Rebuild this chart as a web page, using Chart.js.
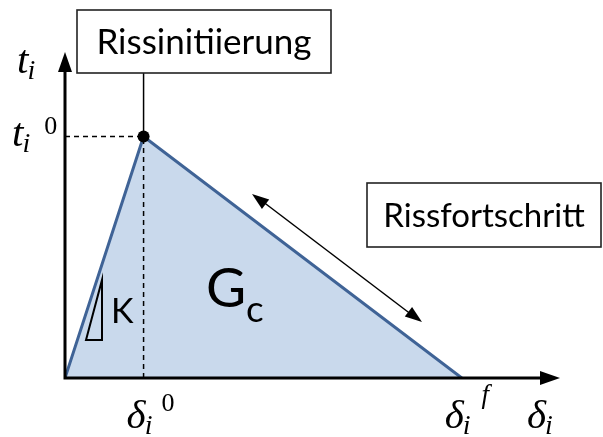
<!DOCTYPE html>
<html>
<head>
<meta charset="utf-8">
<script src="https://cdn.jsdelivr.net/npm/chart.js@4/dist/chart.umd.min.js"></script>
<style>
    html, body { margin: 0 ; padding: 0 ; background: #ffffff ; }
    #wrap { width: 603px ; height: 437px ; }
</style>
</head>
<body>
<div id="wrap"><canvas id="tslChartCanvas" width="603" height="437"></canvas></div>
<script>
    // ---------------- Data -----------------------------------------------------
    // bilinear traction-separation law (normalised: delta_i^0 = 1, t_i^0 = 1)
    const separation = [ 0, 1, 5.05 ] ;
    const traction   = [ 0, 1, 0 ] ;

    const DELTA_0  = 1 ;
    const DELTA_F  = 5.05 ;
    const T_0      = 1 ;
    const X_MAX    = 6.3 ;
    const Y_MAX    = 1.35 ;

    const initLabel     = "Rissinitiierung" ;
    const progressLabel = "Rissfortschritt" ;
    const energyLabel   = [ "G", "c" ] ;
    const stiffLabel    = "K" ;

    // ---------------- Constants ------------------------------------------------
    const SANS = "Lato, 'Open Sans', sans-serif" ;
    const SERIF = "'Liberation Serif', serif" ;
    const FILL_COLOR = '#c9d9ec' ;
    const LINE_COLOR = '#3f6396' ;

    function toPoints( xs, ys ) {
        var pts = [] ;
        for( var i=0; i<xs.length; i++ ) {
            pts.push( { x: xs[i], y: ys[i] } ) ;
        }
        return pts ;
    }

    // ---------------- Drawing helpers ------------------------------------------
    function arrowHead( ctx, x1, y1, x2, y2, len, half ) {
        var a = Math.atan2( y2 - y1, x2 - x1 ) ;
        ctx.beginPath() ;
        ctx.moveTo( x2, y2 ) ;
        ctx.lineTo( x2 - len*Math.cos(a) + half*Math.sin(a), y2 - len*Math.sin(a) - half*Math.cos(a) ) ;
        ctx.lineTo( x2 - len*Math.cos(a) - half*Math.sin(a), y2 - len*Math.sin(a) + half*Math.cos(a) ) ;
        ctx.closePath() ;
        ctx.fill() ;
    }

    // base + italic subscript + optional superscript (offsets relative to subscript end)
    function mathLabel( ctx, base, sub, sup, x, y, supDx, supDy ) {
        ctx.textBaseline = 'alphabetic' ;
        ctx.textAlign = 'left' ;
        ctx.font = "italic 41px " + SERIF ;
        ctx.fillText( base, x, y ) ;
        var w = ctx.measureText( base ).width ;
        ctx.font = "italic 28px " + SERIF ;
        ctx.fillText( sub, x + w - 1, y + 6 ) ;
        if( sup ) {
            var w2 = ctx.measureText( sub ).width ;
            if( sup == 'f' ) {
                ctx.font = "italic 27px " + SERIF ;
            } else {
                ctx.font = "26px " + SERIF ;
            }
            ctx.fillText( sup, x + w + w2 + supDx, y + supDy ) ;
        }
    }

    function textBox( ctx, text, x1, y1, x2, y2, size ) {
        ctx.lineWidth = 1.6 ;
        ctx.strokeStyle = '#222222' ;
        ctx.strokeRect( x1, y1, x2 - x1, y2 - y1 ) ;
        ctx.font = size + "px " + SANS ;
        ctx.textAlign = 'center' ;
        ctx.textBaseline = 'middle' ;
        ctx.fillText( text, (x1 + x2)/2, (y1 + y2)/2 + 1 ) ;
    }

    // ---------------- Annotation plugin ----------------------------------------
    const diagramPlugin = {
        id: 'diagram',
        afterDatasetsDraw: function( chart ) {
            var ctx = chart.ctx ;
            var xs = chart.scales.x ;
            var ys = chart.scales.y ;
            var x0 = xs.getPixelForValue( 0 ) ;
            var y0 = ys.getPixelForValue( 0 ) ;
            var xTip = xs.getPixelForValue( X_MAX ) ;
            var yTip = ys.getPixelForValue( Y_MAX ) ;
            var xD0 = xs.getPixelForValue( DELTA_0 ) ;
            var xDF = xs.getPixelForValue( DELTA_F ) ;
            var yT0 = ys.getPixelForValue( T_0 ) ;

            ctx.save() ;
            ctx.fillStyle = '#000000' ;
            ctx.strokeStyle = '#000000' ;

            // axes with arrows
            ctx.lineWidth = 3 ;
            ctx.beginPath() ;
            ctx.moveTo( x0, y0 + 1.5 ) ;
            ctx.lineTo( x0, yTip + 12 ) ;
            ctx.moveTo( x0 - 1.5, y0 ) ;
            ctx.lineTo( xTip - 12, y0 ) ;
            ctx.stroke() ;
            arrowHead( ctx, x0, y0, x0, yTip, 20, 7 ) ;
            arrowHead( ctx, x0, y0, xTip, y0, 20, 7 ) ;

            // connector from the initiation box to the peak
            ctx.lineWidth = 1.5 ;
            ctx.beginPath() ;
            ctx.moveTo( xD0, 73 ) ;
            ctx.lineTo( xD0, yT0 ) ;
            ctx.stroke() ;

            // double arrow along the softening branch
            ctx.beginPath() ;
            ctx.moveTo( 262, 201 ) ;
            ctx.lineTo( 412, 315 ) ;
            ctx.stroke() ;
            arrowHead( ctx, 412, 315, 252, 194, 17, 6 ) ;
            arrowHead( ctx, 262, 201, 422, 322, 17, 6 ) ;

            // stiffness triangle
            ctx.lineWidth = 2 ;
            ctx.beginPath() ;
            ctx.moveTo( 86, 340 ) ;
            ctx.lineTo( 102, 280 ) ;
            ctx.lineTo( 102, 340 ) ;
            ctx.closePath() ;
            ctx.stroke() ;

            // boxes
            ctx.fillStyle = '#000000' ;
            textBox( ctx, initLabel, 77, 10, 331, 73, 35 ) ;
            ctx.fillStyle = '#ffffff' ;
            ctx.fillRect( 367, 183, 234, 64 ) ;
            ctx.fillStyle = '#000000' ;
            textBox( ctx, progressLabel, 367, 183, 601, 247, 33 ) ;

            // texts inside the area
            ctx.textAlign = 'left' ;
            ctx.textBaseline = 'alphabetic' ;
            ctx.font = "55px " + SANS ;
            ctx.fillText( energyLabel[0], 206, 307 ) ;
            ctx.font = "37px " + SANS ;
            ctx.fillText( energyLabel[1], 246, 322 ) ;
            ctx.font = "34px " + SANS ;
            ctx.fillText( stiffLabel, 111, 323 ) ;

            // axis labels
            mathLabel( ctx, "t", "i", null, x0 - 48, 73, 0, 0 ) ;
            mathLabel( ctx, "t", "i", "0", x0 - 53, yT0 + 9, 13, -12 ) ;
            mathLabel( ctx, "\u03B4", "i", "0", xD0 - 17, 428, 8, -17 ) ;
            mathLabel( ctx, "\u03B4", "i", "f", xDF - 17, 428, 10, -25 ) ;
            mathLabel( ctx, "\u03B4", "i", null, xTip - 33, 428, 0, 0 ) ;

            ctx.restore() ;
        }
    } ;

    // ---------------- Chart ----------------------------------------------------
    function drawChart() {
        var canvas = document.getElementById( 'tslChartCanvas' ) ;
        return new Chart( canvas, {
            type: 'scatter',
            data: {
                datasets: [
                    {
                        data: toPoints( separation, traction ),
                        showLine: true,
                        fill: 'origin',
                        backgroundColor: FILL_COLOR,
                        borderColor: LINE_COLOR,
                        borderWidth: 3,
                        pointRadius: 0,
                        tension: 0,
                        order: 3
                    },
                    {
                        data: toPoints( [ 0, DELTA_0 ], [ T_0, T_0 ] ),
                        showLine: true,
                        borderColor: '#000000',
                        borderWidth: 1.5,
                        borderDash: [ 5, 4 ],
                        pointRadius: 0,
                        order: 2
                    },
                    {
                        data: toPoints( [ DELTA_0, DELTA_0 ], [ 0, T_0 ] ),
                        showLine: true,
                        borderColor: '#000000',
                        borderWidth: 1.5,
                        borderDash: [ 5, 4 ],
                        pointRadius: 0,
                        order: 2
                    },
                    {
                        data: toPoints( [ DELTA_0 ], [ T_0 ] ),
                        pointRadius: 6,
                        pointBackgroundColor: '#000000',
                        pointBorderWidth: 0,
                        order: 1
                    }
                ]
            },
            options: {
                responsive: false,
                animation: false,
                layout: { padding: { left: 65, right: 43, top: 52, bottom: 59 } },
                plugins: {
                    legend: { display: false },
                    tooltip: { enabled: false }
                },
                scales: {
                    x: { type: 'linear', min: 0, max: X_MAX, display: false },
                    y: { type: 'linear', min: 0, max: Y_MAX, display: false }
                }
            },
            plugins: [ diagramPlugin ]
        } ) ;
    }

    drawChart() ;
</script>
</body>
</html>
